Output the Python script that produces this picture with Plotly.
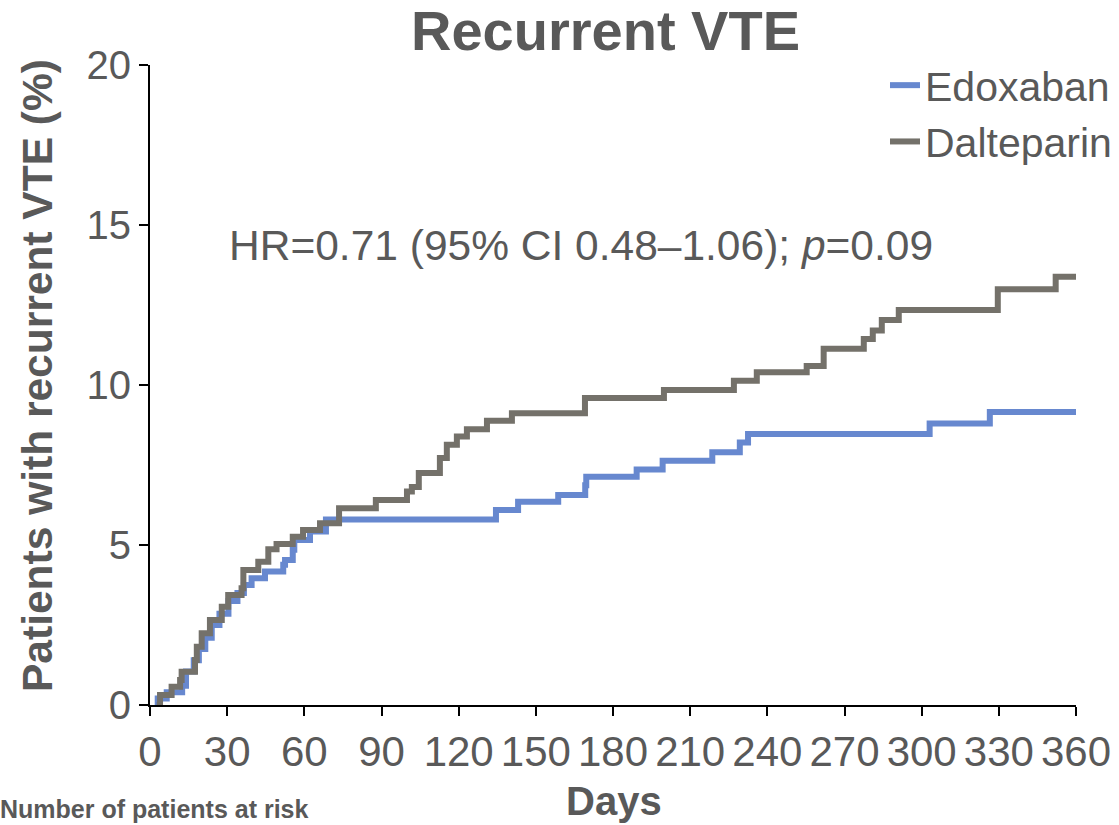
import plotly.graph_objects as go

# Kaplan-Meier style cumulative incidence of recurrent VTE (%), by day
edoxaban_days = [2.4, 3.0, 6.5, 12.5, 14.0, 17.0, 19.0, 21.5, 24.0, 27.0, 30.5, 34.0, 36.5,
                 39.5, 44.7, 51.8, 52.5, 55.5, 56.1, 62.2, 68.4, 134.5, 143.1, 158.7, 169.2,
                 169.6, 189.2, 199.3, 218.6, 229.3, 232.5, 303.1, 326.5, 360.0]
edoxaban_pct = [0.0, 0.2, 0.4, 0.6, 1.05, 1.4, 1.75, 2.1, 2.5, 2.85, 3.25, 3.5, 3.75,
                3.96, 4.17, 4.38, 4.53, 4.85, 5.16, 5.42, 5.80, 6.09, 6.35, 6.56, 6.87,
                7.13, 7.36, 7.63, 7.90, 8.20, 8.47, 8.80, 9.16, 9.16]

dalteparin_days = [2.6, 3.9, 8.4, 11.7, 12.3, 17.5, 18.2, 20.1, 23.3, 27.9, 30.4, 35.6, 36.3,
                   42.1, 46.0, 49.2, 55.5, 59.5, 66.1, 73.5, 87.8, 99.9, 101.8, 104.5, 112.7,
                   115.4, 119.3, 123.2, 131.0, 140.7, 169.1, 199.8, 227.0, 235.9, 255.3,
                   261.9, 277.5, 281.0, 284.5, 291.1, 329.6, 352.1, 360.0]
dalteparin_pct = [0.0, 0.31, 0.57, 0.78, 1.04, 1.41, 1.82, 2.24, 2.66, 3.07, 3.44, 3.65, 4.22,
                  4.48, 4.87, 5.03, 5.26, 5.47, 5.68, 6.15, 6.41, 6.67, 6.81, 7.25, 7.72,
                  8.13, 8.39, 8.62, 8.88, 9.12, 9.59, 9.84, 10.13, 10.40, 10.59,
                  11.13, 11.44, 11.70, 12.03, 12.34, 12.99, 13.38, 13.38]

x_ticks = [0, 30, 60, 90, 120, 150, 180, 210, 240, 270, 300, 330, 360]
y_ticks = [0, 5, 10, 15, 20]

BLUE = "#6788cf"
GREY = "#74716a"
TEXT = "#595959"
FONT = "Liberation Sans, Arial, sans-serif"

fig = go.Figure()
fig.add_trace(go.Scatter(x=edoxaban_days, y=edoxaban_pct, mode="lines", name="Edoxaban",
                         line=dict(color=BLUE, width=6, shape="hv")))
fig.add_trace(go.Scatter(x=dalteparin_days, y=dalteparin_pct, mode="lines", name="Dalteparin",
                         line=dict(color=GREY, width=6, shape="hv")))

W, H = 1119, 825
L, R, T, B = 150, 43, 65, 120
pw, ph = W - L - R, H - T - B


def px_x(px):
    return (px - L) / pw


def px_y(py):
    return (H - B - py) / ph


fig.update_layout(
    width=W, height=H,
    margin=dict(l=L, r=R, t=T, b=B, autoexpand=False),
    paper_bgcolor="white", plot_bgcolor="white",
    font=dict(family=FONT, color=TEXT),
    showlegend=True,
    legend=dict(x=px_x(885), y=px_y(52), xanchor="left", yanchor="top",
                font=dict(size=41, color=TEXT), bgcolor="rgba(0,0,0,0)",
                itemwidth=30, tracegroupgap=0),
    xaxis=dict(range=[0, 360], tickvals=x_ticks, ticktext=[str(v) for v in x_ticks],
               showgrid=False, zeroline=False, showline=True, linecolor="black", linewidth=2,
               ticks="outside", ticklen=9, tickwidth=2, tickcolor="black",
               tickfont=dict(size=42, color=TEXT, family=FONT)),
    yaxis=dict(range=[0, 20], tickvals=y_ticks, showgrid=False, zeroline=False,
               showline=True, linecolor="black", linewidth=2,
               ticks="outside", ticklen=9, tickwidth=2, tickcolor="black",
               tickfont=dict(size=40, color=TEXT, family=FONT)),
    annotations=[
        dict(text="<b>Recurrent VTE</b>", xref="paper", yref="paper",
             x=px_x(605), y=px_y(31), xanchor="center", yanchor="middle",
             showarrow=False, font=dict(size=56, color=TEXT, family=FONT)),
        dict(text="<b>Patients with recurrent VTE (%)</b>", xref="paper", yref="paper",
             x=px_x(37), y=px_y(376), xanchor="center", yanchor="middle", textangle=-90,
             showarrow=False, font=dict(size=42.5, color=TEXT, family=FONT)),
        dict(text="<b>Days</b>", xref="paper", yref="paper",
             x=px_x(614), y=px_y(801), xanchor="center", yanchor="middle",
             showarrow=False, font=dict(size=40, color=TEXT, family=FONT)),
        dict(text="HR=0.71 (95% CI 0.48\u20131.06); <i>p</i>=0.09", xref="x", yref="y",
             x=(227 - L) / pw * 360, y=(H - B - 245) / ph * 20, xanchor="left",
             yanchor="middle", showarrow=False,
             font=dict(size=42.5, color=TEXT, family=FONT)),
        dict(text="<b>Number of patients at risk</b>", xref="paper", yref="paper",
             x=px_x(-2), y=px_y(825), xanchor="left", yanchor="bottom",
             showarrow=False, font=dict(size=25, color=TEXT, family=FONT)),
    ],
)

fig.write_html("out.html")
